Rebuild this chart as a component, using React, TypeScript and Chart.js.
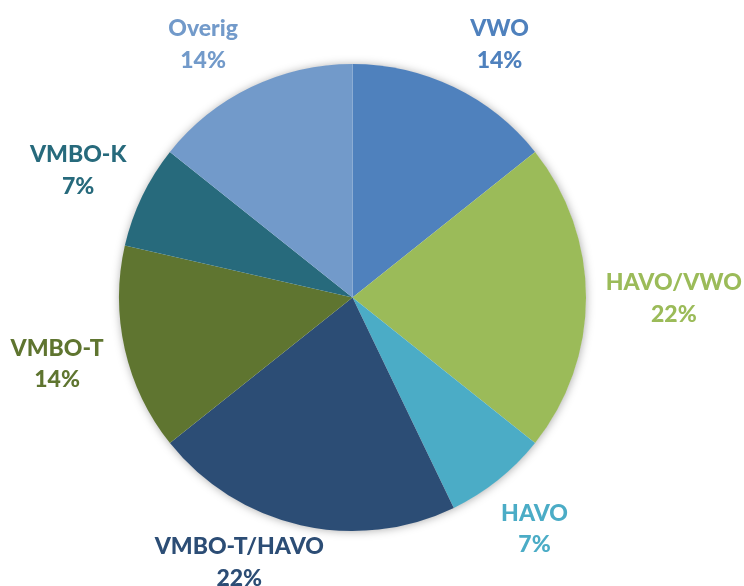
import React, { useEffect, useRef } from 'react';
import { Chart, registerables } from 'chart.js';

Chart.register(...registerables);

const categories = ['VWO', 'HAVO/VWO', 'HAVO', 'VMBO-T/HAVO', 'VMBO-T', 'VMBO-K', 'Overig'];
const counts = [2, 3, 1, 3, 2, 1, 2];
const percentLabels = ['14%', '22%', '7%', '22%', '14%', '7%', '14%'];
const colors = ['#4F81BD', '#9BBB59', '#4BACC6', '#2C4D75', '#5F7530', '#276A7C', '#729ACA'];

const FONT_SIZE = 23;
const LINE_H = 31.5;
const FONT = `900 ${FONT_SIZE}px Lato, "Open Sans", sans-serif`;

const shadowPlugin = {
  id: 'pieShadow',
  beforeDatasetsDraw(chart: any) {
    const meta = chart.getDatasetMeta(0);
    const arc = meta.data[0];
    if (!arc) return;
    const { x, y, outerRadius } = arc.getProps(['x', 'y', 'outerRadius'], true);
    const ctx = chart.ctx;
    ctx.save();
    ctx.shadowColor = 'rgba(0,0,0,0.35)';
    ctx.shadowBlur = 10;
    ctx.shadowOffsetX = 0.5;
    ctx.shadowOffsetY = 0.5;
    ctx.fillStyle = '#ffffff';
    ctx.beginPath();
    ctx.arc(x, y, outerRadius - 0.5, 0, Math.PI * 2);
    ctx.fill();
    ctx.restore();
  },
};

const labelPlugin = {
  id: 'outsideLabels',
  afterDatasetsDraw(chart: any) {
    const meta = chart.getDatasetMeta(0);
    const ctx = chart.ctx;
    const H = chart.height;
    const topBound = 12;
    const bottomBound = H + 7;
    ctx.save();
    ctx.font = FONT;
    ctx.textAlign = 'center';
    ctx.textBaseline = 'alphabetic';
    meta.data.forEach((arc: any, i: number) => {
      const { x, y, startAngle, endAngle, outerRadius } = arc.getProps(
        ['x', 'y', 'startAngle', 'endAngle', 'outerRadius'],
        true
      );
      const lines = [categories[i], percentLabels[i]];
      const w = Math.max(...lines.map((l) => ctx.measureText(l).width));
      const hh = LINE_H;
      const K = outerRadius + 30;
      const place = (a: number) => {
        const ux = Math.cos(a);
        const uy = Math.sin(a);
        return { cx: x + ux * (K + 0.85 * w / 2), cy: y + uy * (K + hh) };
      };
      const mid = (startAngle + endAngle) / 2;
      let a = mid;
      let p = place(a);
      let guard = 0;
      while (p.cy - hh < topBound && guard < 800) {
        a += Math.cos(a) >= 0 ? 0.002 : -0.002;
        p = place(a);
        guard++;
      }
      if (p.cy + hh > bottomBound) {
        guard = 0;
        let b = a;
        let q = p;
        while (q.cy + hh > bottomBound && guard < 800) {
          b += Math.cos(b) >= 0 ? -0.002 : 0.002;
          q = place(b);
          guard++;
        }
        a = a + 0.5 * (b - a);
        p = place(a);
        p.cy = Math.min(p.cy, bottomBound - hh);
      }
      ctx.fillStyle = colors[i];
      const capHalf = FONT_SIZE * 0.36;
      ctx.fillText(lines[0], p.cx, p.cy - LINE_H / 2 + capHalf);
      ctx.fillText(lines[1], p.cx, p.cy + LINE_H / 2 + capHalf);
    });
    ctx.restore();
  },
};

export default function App() {
  const ref = useRef<HTMLCanvasElement | null>(null);
  useEffect(() => {
    if (!ref.current) return;
    const chart = new Chart(ref.current, {
      type: 'pie',
      data: {
        labels: categories,
        datasets: [
          {
            data: counts,
            backgroundColor: colors,
            borderWidth: 0,
          },
        ],
      },
      options: {
        responsive: false,
        animation: false,
        layout: { padding: { left: 119, right: 158, top: 64, bottom: 55 } },
        plugins: {
          legend: { display: false },
          tooltip: { enabled: false },
        },
      },
      plugins: [shadowPlugin, labelPlugin],
    });
    return () => chart.destroy();
  }, []);
  return (
    <div style={{ position: 'fixed', left: 0, top: 0, width: 744, height: 586, background: '#fff' }}>
      <canvas ref={ref} width={744} height={586} />
    </div>
  );
}
